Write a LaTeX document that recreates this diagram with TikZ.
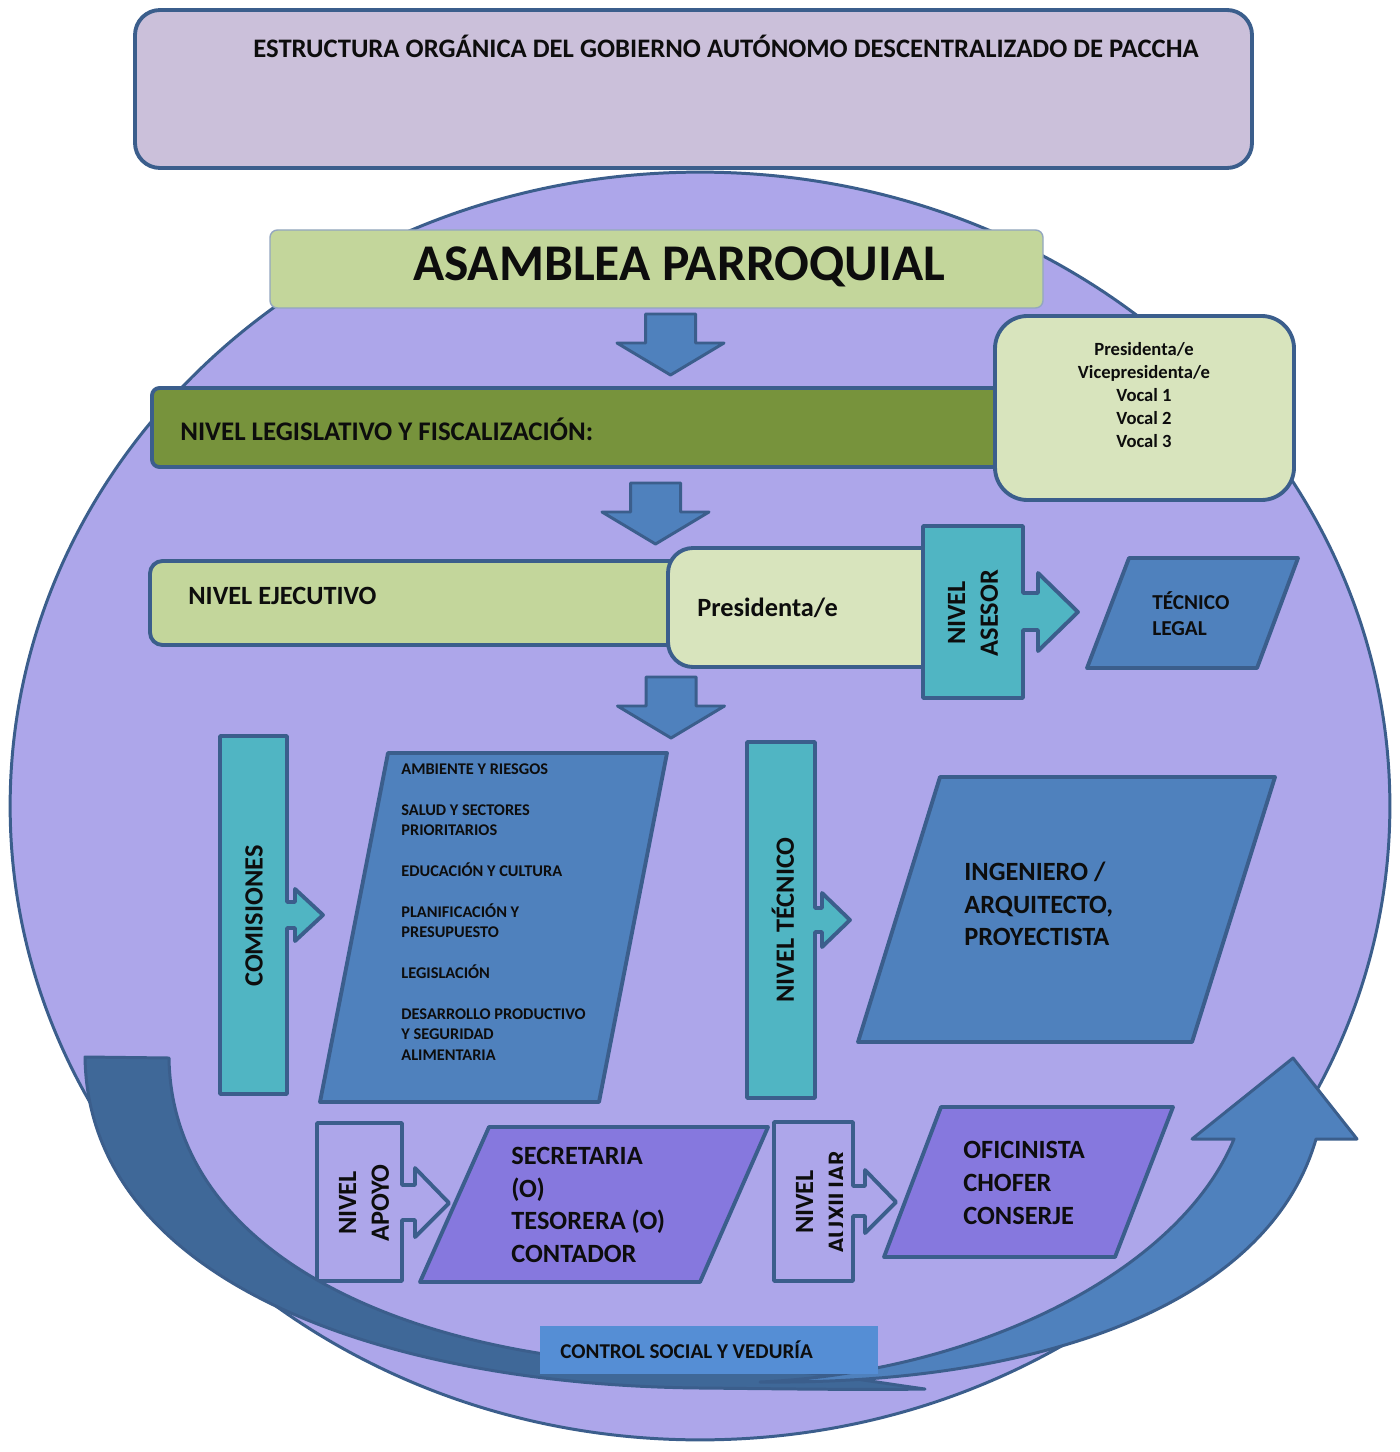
\documentclass[tikz,border=0pt]{standalone}
\usepackage{fontspec}
\setmainfont{Carlito}
\usepackage{tikz}
\usetikzlibrary{positioning, fit, shapes.geometric}
\definecolor{edgeblue}{RGB}{59,94,140}
\definecolor{titlegrey}{RGB}{203,192,218}
\definecolor{orbitlilac}{RGB}{173,166,234}
\definecolor{palegreen}{RGB}{195,214,155}
\definecolor{lightgreen}{RGB}{216,228,189}
\definecolor{olivegreen}{RGB}{119,147,60}
\definecolor{tealbox}{RGB}{80,181,195}
\definecolor{steelblue}{RGB}{79,129,189}
\definecolor{violetbox}{RGB}{134,120,222}
\definecolor{controlblue}{RGB}{85,142,213}
\definecolor{darkband}{RGB}{63,104,152}

\begin{document}
\begin{tikzpicture}[x=0.02cm, y=-0.02cm,
  every node/.style={font=\bfseries, text=black!95, inner sep=0pt},
  frame/.style={draw=edgeblue, line width=2.2pt, line join=round},
  panel/.style={frame, inner sep=0pt},
  headtext/.style={font=\fontsize{15.2}{18}\selectfont\bfseries},
  hugetext/.style={font=\fontsize{29.3}{34}\selectfont\bfseries},
  labeltext/.style={font=\fontsize{15}{18.6}\selectfont\bfseries},
  vocaltext/.style={font=\fontsize{10.6}{13}\selectfont\bfseries},
  legaltext/.style={font=\fontsize{12.1}{14.7}\selectfont\bfseries},
  listtext/.style={font=\fontsize{9.3}{11.6}\selectfont\bfseries},
  captiontext/.style={font=\fontsize{12}{14}\selectfont\bfseries}]
  \useasboundingbox (0,0) rectangle (1399,1452);

  % Background
  \node[ellipse, draw=edgeblue, line width=1.7pt, fill=orbitlilac, minimum width=27.6cm,
    minimum height=25.36cm] (orbit) at (700,806) {};

  % Title
  \node[panel, fill=titlegrey, rounded corners=0.5cm, fit={(135,10) (1252,168)}] (head) {};
  \node[headtext, anchor=west] (headtxt) at (253,46)
    {ESTRUCTURA ORGÁNICA DEL GOBIERNO AUTÓNOMO DESCENTRALIZADO DE PACCHA};

  % Asamblea
  \node[draw=edgeblue!55, line width=0.8pt, fill=palegreen, rounded corners=0.15cm,
    fit={(270,230) (1043,308)}] (asamblea) {};
  \node[hugetext] (asambleatxt) at (679,267) {ASAMBLEA PARROQUIAL};

  % Down arrows
  \foreach \cx/\ty in {670.5/314, 655.5/483, 671/677}
    \draw[frame, line width=1.7pt, fill=steelblue] (\cx-25,\ty) -- (\cx+25,\ty)
      -- (\cx+25,\ty+29) -- (\cx+53.5,\ty+29) -- (\cx,\ty+61) -- (\cx-53.5,\ty+29)
      -- (\cx-25,\ty+29) -- cycle;

  % Legislativo
  \node[panel, fill=olivegreen, rounded corners=0.15cm, fit={(152,388) (1000,467)}] (legis) {};
  \node[labeltext, font=\fontsize{15.3}{18}\selectfont\bfseries, anchor=west] (legistxt) at (180,429)
    {NIVEL LEGISLATIVO Y FISCALIZACIÓN:};
  \node[panel, fill=lightgreen, rounded corners=0.65cm, fit={(995,316) (1294,500)}] (vocales) {};
  \node[vocaltext, align=center] (vocalestxt) at (1144,395)
    {Presidenta/e\\Vicepresidenta/e\\Vocal 1\\Vocal 2\\Vocal 3};

  % Ejecutivo
  \node[panel, fill=palegreen, rounded corners=0.25cm, fit={(150,561) (690,645)}] (ejec) {};
  \node[labeltext, anchor=west] (ejectxt) at (188,596) {NIVEL EJECUTIVO};
  \node[panel, fill=lightgreen, rounded corners=0.5cm, fit={(668,548) (960,667)}] (presi) {};
  \node[labeltext, anchor=west] (presitxt) at (697,608) {Presidenta/e};

  % Asesor
  \draw[frame, fill=tealbox] (923,526) -- (1023,526) -- (1023,593) -- (1038,593) -- (1038,573)
    -- (1078,612) -- (1038,651) -- (1038,630) -- (1023,630) -- (1023,698) -- (923,698) -- cycle;
  \node[labeltext, rotate=90, align=center] (asesortxt) at (973,613) {NIVEL\\ASESOR};
  \draw[frame, fill=steelblue] (1129,558) -- (1298,558) -- (1257,668) -- (1087,668) -- cycle;
  \node[legaltext, anchor=west, align=left] (legaltxt) at (1152,614) {TÉCNICO\\LEGAL};

  % Comisiones
  \draw[frame, fill=tealbox] (220,736) -- (287,736) -- (287,902) -- (295,902) -- (295,889)
    -- (323,915) -- (295,941) -- (295,928) -- (287,928) -- (287,1094) -- (220,1094) -- cycle;
  \node[labeltext, rotate=90] (comtxt) at (254,916) {COMISIONES};
  \draw[frame, fill=steelblue] (388,753) -- (667,753) -- (599,1102) -- (320,1102) -- cycle;
  \node[listtext, anchor=west, align=left] (comlist) at (401,912)
    {AMBIENTE Y RIESGOS\\[11.6pt]SALUD Y SECTORES\\PRIORITARIOS\\[11.6pt]EDUCACIÓN Y CULTURA\\[11.6pt]%
     PLANIFICACIÓN Y\\PRESUPUESTO\\[11.6pt]LEGISLACIÓN\\[11.6pt]DESARROLLO PRODUCTIVO\\%
     Y SEGURIDAD\\ALIMENTARIA};

  % Tecnico
  \draw[frame, fill=tealbox] (747,742) -- (815,742) -- (815,908) -- (822,908) -- (822,893)
    -- (850,920) -- (822,947) -- (822,932) -- (815,932) -- (815,1098) -- (747,1098) -- cycle;
  \node[labeltext, rotate=90] (tectxt) at (783,920) {NIVEL TÉCNICO};
  \draw[frame, fill=steelblue] (940,777) -- (1275,777) -- (1192,1042) -- (858,1042) -- cycle;
  \node[labeltext, anchor=west, align=left] (ingtxt) at (964,904)
    {INGENIERO /\\ARQUITECTO,\\PROYECTISTA};

  % Apoyo
  \draw[frame, fill=orbitlilac] (317,1123) -- (402,1123) -- (402,1185) -- (415,1185) -- (415,1168)
    -- (449,1203) -- (415,1237) -- (415,1220) -- (402,1220) -- (402,1281) -- (317,1281) -- cycle;
  \node[labeltext, rotate=90, align=center] (apoyotxt) at (364,1203) {NIVEL\\APOYO};
  \draw[frame, fill=violetbox] (489,1127) -- (768,1127) -- (700,1282) -- (420,1282) -- cycle;
  \node[labeltext, anchor=west, align=left] (secretxt) at (511,1205)
    {SECRETARIA\\(O)\\TESORERA (O)\\CONTADOR};

  % Auxiliar
  \draw[frame, fill=orbitlilac] (774,1122) -- (853,1122) -- (853,1186) -- (865,1186) -- (865,1170)
    -- (896,1202) -- (865,1233) -- (865,1216) -- (853,1216) -- (853,1281) -- (774,1281) -- cycle;
  \begin{scope}
    \clip (776,1124) rectangle (842,1279);
    \node[labeltext, rotate=90, align=center] (auxtxt) at (821,1202) {NIVEL\\AUXILIAR};
  \end{scope}
  \draw[frame, fill=violetbox] (941,1107) -- (1173,1107) -- (1115,1257) -- (884,1257) -- cycle;
  \node[labeltext, anchor=west, align=left] (oficitxt) at (963,1183)
    {OFICINISTA\\CHOFER\\CONSERJE};

  % Control social band
  \draw[frame, line width=1.7pt, fill=darkband] (85,1057) .. controls (88,1280) and (380,1385) .. (700,1388)
    .. controls (800,1389) and (870,1390) .. (925,1389)
    .. controls (860,1380) and (790,1367) .. (700,1366)
    .. controls (420,1365) and (172,1260) .. (169,1058) -- cycle;
  \draw[frame, line width=1.7pt, fill=steelblue] (760,1382) .. controls (1050,1385) and (1270,1300) .. (1316,1139)
    -- (1357,1139) -- (1293,1058) -- (1192,1139) -- (1234,1139)
    .. controls (1180,1270) and (980,1372) .. (760,1382) -- cycle;
  \node[fill=controlblue, fit={(540,1326) (878,1374)}] (control) {};
  \node[captiontext, anchor=west] (controltxt) at (560,1350) {CONTROL SOCIAL Y VEDURÍA};
\end{tikzpicture}
\end{document}
